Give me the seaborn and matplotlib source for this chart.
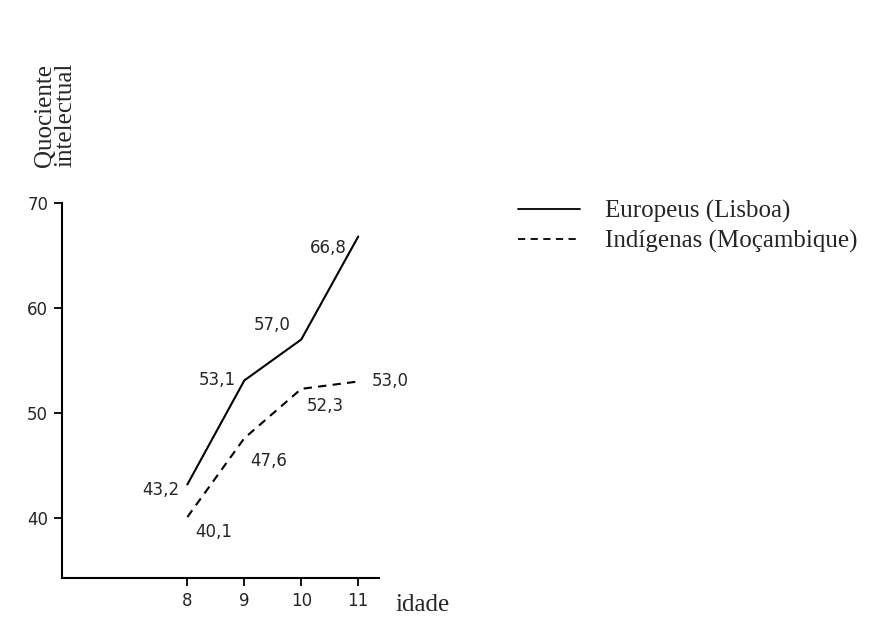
import pandas as pd
import matplotlib.pyplot as plt
import seaborn as sns

idades = [8, 9, 10, 11]
europeus = [43.2, 53.1, 57.0, 66.8]
indigenas = [40.1, 47.6, 52.3, 53.0]
rotulo_eur = "Europeus (Lisboa)"
rotulo_ind = "Indígenas (Moçambique)"
yticks = [40, 50, 60, 70]

df = pd.DataFrame({
    "idade": idades * 2,
    "qi": europeus + indigenas,
    "grupo": [rotulo_eur] * 4 + [rotulo_ind] * 4,
})

sns.set_style("white")
plt.rcParams['font.family'] = ['DejaVu Sans']

fig = plt.figure(figsize=(8.74, 6.39), dpi=100)
ax = fig.add_axes([0.071, 0.0955, 0.363, 0.587])

sns.lineplot(data=df, x="idade", y="qi", style="grupo", color="black",
             dashes={rotulo_eur: "", rotulo_ind: (4, 3)}, linewidth=1.5,
             ax=ax, legend=False)

ax.set_xlim(5.8, 11.37)
ax.set_ylim(34.3, 70)
ax.set_xticks(idades)
ax.set_xticklabels([str(i) for i in idades], fontsize=12)
ax.set_yticks(yticks)
ax.set_yticklabels([str(v) for v in yticks], fontsize=12)
ax.tick_params(bottom=True, left=True, direction="out", length=6, width=1.3,
               color="black", pad=4)
ax.set_xlabel("")
ax.set_ylabel("")
for s in ["top", "right"]:
    ax.spines[s].set_visible(False)
for s in ["left", "bottom"]:
    ax.spines[s].set_color("black")
    ax.spines[s].set_linewidth(1.5)

# rotulos dos valores (virgula decimal)
desloc_eur = [(-6, -4, "right", "center"), (-6, 0, "right", "center"),
              (-8, 4, "right", "bottom"), (-8, -2, "right", "top")]
desloc_ind = [(6, -4, "left", "top"), (4, -10, "left", "top"),
              (4, -6, "left", "top"), (10, 0, "left", "center")]
for x, y, (dx, dy, ha, va) in zip(idades, europeus, desloc_eur):
    ax.annotate(f"{y:.1f}".replace(".", ","), (x, y), xytext=(dx, dy),
                textcoords="offset points", ha=ha, va=va, fontsize=12)
for x, y, (dx, dy, ha, va) in zip(idades, indigenas, desloc_ind):
    ax.annotate(f"{y:.1f}".replace(".", ","), (x, y), xytext=(dx, dy),
                textcoords="offset points", ha=ha, va=va, fontsize=12)

serif = ["Liberation Serif", "DejaVu Serif"]
fig.text(0.063, 0.82, "Quociente\nintelectual", rotation=90, ha="center",
         va="center", family=serif, fontsize=18, linespacing=0.9)
fig.text(0.452, 0.053, "idade", ha="left", va="center", family=serif, fontsize=18)

linhas = [plt.Line2D([], [], color="black", lw=1.3),
          plt.Line2D([], [], color="black", lw=1.3, dashes=(4, 3))]
fig.legend(linhas, [rotulo_eur, rotulo_ind], loc="upper left",
           bbox_to_anchor=(0.578, 0.706), frameon=False,
           prop={"family": serif, "size": 18}, handlelength=2.5,
           handletextpad=1.0, labelspacing=0.25, borderpad=0)

fig.savefig("out.png", dpi=100)
